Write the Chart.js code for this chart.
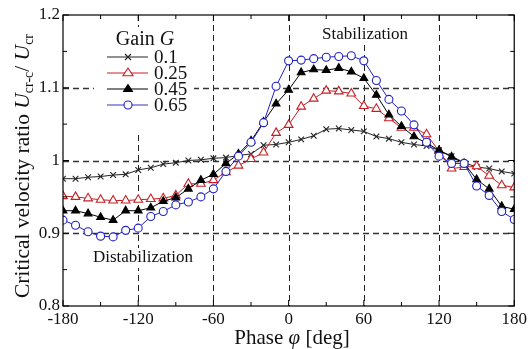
<!DOCTYPE html>
<html>
<head>
<meta charset="utf-8">
<script src="https://cdn.jsdelivr.net/npm/chart.js@4.4.1/dist/chart.umd.min.js"></script>
<style>
  html, body { margin: 0; padding: 0; background: #fff; }
  #wrap { width: 530px; height: 349px; }
</style>
</head>
<body>
<div id="wrap"><canvas id="chart" width="530" height="349"></canvas></div>
<script>
// phase [deg] and critical velocity ratio for each gain G
const phase = [-180, -170, -160, -150, -140, -130, -120, -110, -100, -90, -80, -70, -60, -50, -40, -30, -20, -10,
  0, 10, 20, 30, 40, 50, 60, 70, 80, 90, 100, 110, 120, 130, 140, 150, 160, 170, 180];
const gain01 = [0.975, 0.975, 0.977, 0.978, 0.980, 0.981, 0.987, 0.990, 0.995, 0.997, 1.000, 1.001, 1.003, 1.004, 1.007, 1.009, 1.021, 1.022,
  1.025, 1.029, 1.034, 1.043, 1.044, 1.042, 1.040, 1.033, 1.030, 1.025, 1.022, 1.020, 1.014, 1.006, 0.997, 0.991, 0.989, 0.985, 0.982];
const gain025 = [0.951, 0.950, 0.948, 0.946, 0.945, 0.945, 0.946, 0.947, 0.948, 0.952, 0.968, 0.968, 0.973, 0.984, 0.993, 1.002, 1.011, 1.038,
  1.049, 1.074, 1.085, 1.096, 1.095, 1.092, 1.075, 1.071, 1.058, 1.045, 1.045, 1.036, 1.013, 0.989, 0.991, 0.992, 0.979, 0.966, 0.963];
const gain045 = [0.931, 0.931, 0.927, 0.922, 0.918, 0.931, 0.931, 0.935, 0.944, 0.949, 0.961, 0.973, 0.981, 0.996, 1.009, 1.027, 1.053, 1.078,
  1.097, 1.121, 1.125, 1.124, 1.127, 1.122, 1.113, 1.090, 1.063, 1.047, 1.033, 1.024, 1.014, 1.005, 0.996, 0.974, 0.961, 0.937, 0.933];
const gain065 = [0.918, 0.911, 0.902, 0.896, 0.895, 0.904, 0.907, 0.923, 0.930, 0.939, 0.943, 0.950, 0.961, 0.985, 1.006, 1.025, 1.052, 1.102,
  1.137, 1.138, 1.140, 1.142, 1.143, 1.144, 1.137, 1.110, 1.084, 1.068, 1.049, 1.025, 1.006, 0.996, 0.996, 0.965, 0.952, 0.930, 0.919];

const gainLabels = ["0.1", "0.25", "0.45", "0.65"];
const xTicks = [-180, -120, -60, 0, 60, 120, 180];
const yTicks = [0.8, 0.9, 1, 1.1, 1.2];
const xMinor = [-150, -90, -30, 30, 90, 150];
const yMinor = [0.85, 0.95, 1.05, 1.15];

const SERIF = "'Liberation Serif', 'Times New Roman', serif";
const RED = "#c81e23";
const BLUE = "#2020c8";

const toPoints = (ys) => phase.map((p, i) => ({ x: p, y: ys[i] }));

const seriesStyle = [
  { color: "#222", style: "crossRot", fill: "#222", radius: 4 },
  { color: RED, style: "triangle", fill: "#fff", radius: 5 },
  { color: "#000", style: "triangle", fill: "#000", radius: 4.5 },
  { color: BLUE, style: "circle", fill: "#fff", radius: 4 },
];
const seriesData = [gain01, gain025, gain045, gain065];

const datasets = seriesData.map((ys, i) => ({
  label: gainLabels[i],
  data: toPoints(ys),
  borderColor: seriesStyle[i].color,
  borderWidth: 1,
  pointStyle: seriesStyle[i].style,
  pointRadius: seriesStyle[i].radius,
  pointBorderColor: seriesStyle[i].color,
  pointBackgroundColor: seriesStyle[i].fill,
  pointBorderWidth: 1.1,
  tension: 0,
  order: 3 - i,
}));

// marker used in the legend box
function marker(ctx, s, x, y) {
  const r = s.radius;
  ctx.save();
  ctx.strokeStyle = s.color;
  ctx.fillStyle = s.fill;
  ctx.lineWidth = 1.1;
  ctx.beginPath();
  if (s.style === "circle") {
    ctx.arc(x, y, r, 0, Math.PI * 2);
    ctx.fill();
    ctx.stroke();
  } else if (s.style === "triangle") {
    ctx.moveTo(x, y - r);
    ctx.lineTo(x + r, y + r * 0.55);
    ctx.lineTo(x - r, y + r * 0.55);
    ctx.closePath();
    ctx.fill();
    ctx.stroke();
  } else {
    const d = r * 0.75;
    ctx.moveTo(x - d, y - d); ctx.lineTo(x + d, y + d);
    ctx.moveTo(x + d, y - d); ctx.lineTo(x - d, y + d);
    ctx.stroke();
  }
  ctx.restore();
}

// draws a run of text pieces: [text, font, dy]
function drawRuns(ctx, runs, x, y, align) {
  let total = 0;
  runs.forEach(r => { ctx.font = r[1]; total += ctx.measureText(r[0]).width; });
  let cx = align === "center" ? x - total / 2 : x;
  runs.forEach(r => {
    ctx.font = r[1];
    ctx.fillText(r[0], cx, y + (r[2] || 0));
    cx += ctx.measureText(r[0]).width;
  });
}

const framePlugin = {
  id: "frame",
  beforeDatasetsDraw(chart) {
    const { ctx, chartArea: a, scales: { x, y } } = chart;
    ctx.save();
    ctx.strokeStyle = "#222";
    ctx.lineWidth = 1;
    ctx.setLineDash([6, 4]);
    xTicks.slice(1, -1).forEach(v => {
      const px = Math.round(x.getPixelForValue(v)) + 0.5;
      ctx.beginPath(); ctx.moveTo(px, a.top); ctx.lineTo(px, a.bottom); ctx.stroke();
    });
    ctx.strokeStyle = "#333";
    ctx.lineWidth = 1.3;
    yTicks.slice(1, -1).forEach(v => {
      const py = Math.round(y.getPixelForValue(v)) + 0.5;
      ctx.beginPath(); ctx.moveTo(a.left, py); ctx.lineTo(a.right, py); ctx.stroke();
    });

    // white boxes behind the legend and the region notes
    ctx.fillStyle = "#fff";
    ctx.fillRect(94, 27, 100, 106);
    ctx.fillRect(318, 25, 94, 20);
    ctx.fillRect(89, 248, 108, 20);
    ctx.restore();
  },
  afterDatasetsDraw(chart) {
    const { ctx, chartArea: a, scales: { x, y } } = chart;
    ctx.save();
    ctx.strokeStyle = "#000";
    ctx.lineWidth = 1.2;
    ctx.strokeRect(a.left, a.top, a.right - a.left, a.bottom - a.top);
    ctx.lineWidth = 1;
    const tick = (vals, len) => {
      vals.forEach(v => {
        const px = x.getPixelForValue(v);
        ctx.beginPath();
        ctx.moveTo(px, a.bottom); ctx.lineTo(px, a.bottom - len);
        ctx.moveTo(px, a.top); ctx.lineTo(px, a.top + len);
        ctx.stroke();
      });
    };
    const ytick = (vals, len) => {
      vals.forEach(v => {
        const py = y.getPixelForValue(v);
        ctx.beginPath();
        ctx.moveTo(a.left, py); ctx.lineTo(a.left + len, py);
        ctx.moveTo(a.right, py); ctx.lineTo(a.right - len, py);
        ctx.stroke();
      });
    };
    tick(xTicks, 6); tick(xMinor, 4);
    ytick(yTicks, 6); ytick(yMinor, 4);

    // legend
    ctx.fillStyle = "#111";
    ctx.textBaseline = "middle";
    drawRuns(ctx, [["Gain ", "20px " + SERIF], ["G", "italic 20px " + SERIF]], 145, 40, "center");
    const rows = [57, 73, 89, 105];
    seriesStyle.forEach((s, i) => {
      ctx.strokeStyle = i === 3 ? "#3a30c0" : s.color;
      ctx.lineWidth = 1;
      ctx.beginPath(); ctx.moveTo(107, rows[i]); ctx.lineTo(148, rows[i]); ctx.stroke();
      marker(ctx, s, 128, rows[i]);
      ctx.fillStyle = "#111";
      ctx.font = "19px " + SERIF;
      ctx.textAlign = "left";
      ctx.fillText(gainLabels[i], 154, rows[i] + 1);
    });

    // region notes
    ctx.font = "17px " + SERIF;
    ctx.textAlign = "center";
    ctx.fillText("Stabilization", 365, 35);
    ctx.fillText("Distabilization", 143, 258);
    ctx.restore();

    // axis titles
    ctx.save();
    ctx.fillStyle = "#111";
    ctx.textAlign = "left";
    ctx.textBaseline = "alphabetic";
    drawRuns(ctx, [["Phase ", "21px " + SERIF], ["\u03c6", "italic 21px " + SERIF], [" [deg]", "21px " + SERIF]], 292, 344, "center");
    ctx.translate(29, 166);
    ctx.rotate(-Math.PI / 2);
    drawRuns(ctx, [
      ["Critical velocity ratio ", "21.5px " + SERIF],
      ["U", "italic 21.5px " + SERIF],
      ["cr-c", "14px " + SERIF, 4],
      ["/ ", "21.5px " + SERIF],
      ["U", "italic 21.5px " + SERIF],
      ["cr", "14px " + SERIF, 4],
    ], 0, 0, "center");
    ctx.restore();
  },
};

new Chart(document.getElementById("chart"), {
  type: "line",
  data: { datasets },
  options: {
    responsive: false,
    animation: false,
    devicePixelRatio: 1,
    layout: { padding: { top: 15, right: 12, left: 0, bottom: 0 } },
    plugins: { legend: { display: false }, tooltip: { enabled: false } },
    scales: {
      x: {
        type: "linear",
        min: -180,
        max: 180,
        afterBuildTicks: (s) => { s.ticks = xTicks.map(v => ({ value: v })); },
        afterFit: (s) => { s.height = 43; },
        grid: { display: false, drawTicks: false },
        border: { display: false },
        ticks: { color: "#111", padding: 3, maxRotation: 0, font: { family: SERIF, size: 17 } },
      },
      y: {
        min: 0.8,
        max: 1.2,
        afterBuildTicks: (s) => { s.ticks = yTicks.map(v => ({ value: v })); },
        afterFit: (s) => { s.width = 63; },
        grid: { display: false, drawTicks: false },
        border: { display: false },
        ticks: {
          color: "#111",
          padding: 3,
          font: { family: SERIF, size: 17 },
          callback: (v) => String(Math.round(v * 10) / 10),
        },
      },
    },
  },
  plugins: [framePlugin],
});
</script>
</body>
</html>
